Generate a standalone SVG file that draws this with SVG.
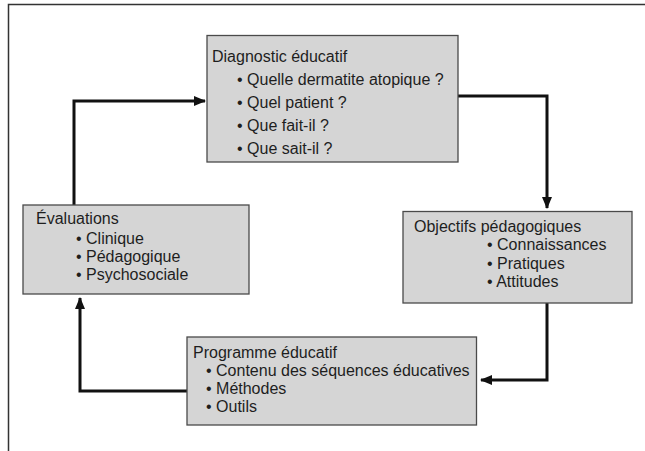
<svg xmlns="http://www.w3.org/2000/svg" width="645" height="451" viewBox="0 0 645 451">
<defs>
<style>
.frame{fill:none;stroke:#333;stroke-width:1.5}
.box{fill:#d5d5d5;stroke:#4a4a4a;stroke-width:1.3}
.t{font-family:"Liberation Sans",Arial,Helvetica,sans-serif;font-size:16px;fill:#1e1e1e}
.c{fill:none;stroke:#111;stroke-width:3;stroke-linejoin:miter}
</style>
<marker id="ah" viewBox="0 0 12 10" refX="11" refY="5" markerWidth="12" markerHeight="10" markerUnits="userSpaceOnUse" orient="auto">
<path d="M0,0 L12,5 L0,10 Z" fill="#111"/>
</marker>
</defs>
<rect width="645" height="451" fill="#fff"/>
<path class="frame" d="M645,4.5 H8.5 V451"/>
<g id="connectors">
<path class="c" d="M74,205 V101 H205" marker-end="url(#ah)"/>
<path class="c" d="M458,96 H547 V208" marker-end="url(#ah)"/>
<path class="c" d="M547,303 V380 H481" marker-end="url(#ah)"/>
<path class="c" d="M187,391 H80 V298" marker-end="url(#ah)"/>
</g>
<g id="diagnostic">
<rect class="box" x="207" y="35.5" width="251" height="126.5"/>
<text class="t" x="212" y="62">Diagnostic éducatif</text>
<text class="t" x="237" y="85">• Quelle dermatite atopique ?</text>
<text class="t" x="237" y="108">• Quel patient ?</text>
<text class="t" x="237" y="131">• Que fait-il ?</text>
<text class="t" x="237" y="154">• Que sait-il ?</text>
</g>
<g id="objectifs">
<rect class="box" x="403" y="211.5" width="229" height="91.5"/>
<text class="t" x="414" y="232">Objectifs pédagogiques</text>
<text class="t" x="487" y="250">• Connaissances</text>
<text class="t" x="487" y="268.5">• Pratiques</text>
<text class="t" x="487" y="287">• Attitudes</text>
</g>
<g id="evaluations">
<rect class="box" x="23" y="205" width="226" height="89"/>
<text class="t" x="36" y="224">Évaluations</text>
<text class="t" x="76" y="244">• Clinique</text>
<text class="t" x="76" y="262">• Pédagogique</text>
<text class="t" x="76" y="280">• Psychosociale</text>
</g>
<g id="programme">
<rect class="box" x="187" y="337" width="289.5" height="88"/>
<text class="t" x="193" y="358">Programme éducatif</text>
<text class="t" x="206" y="376">• Contenu des séquences éducatives</text>
<text class="t" x="206" y="394">• Méthodes</text>
<text class="t" x="206" y="412">• Outils</text>
</g>
</svg>
